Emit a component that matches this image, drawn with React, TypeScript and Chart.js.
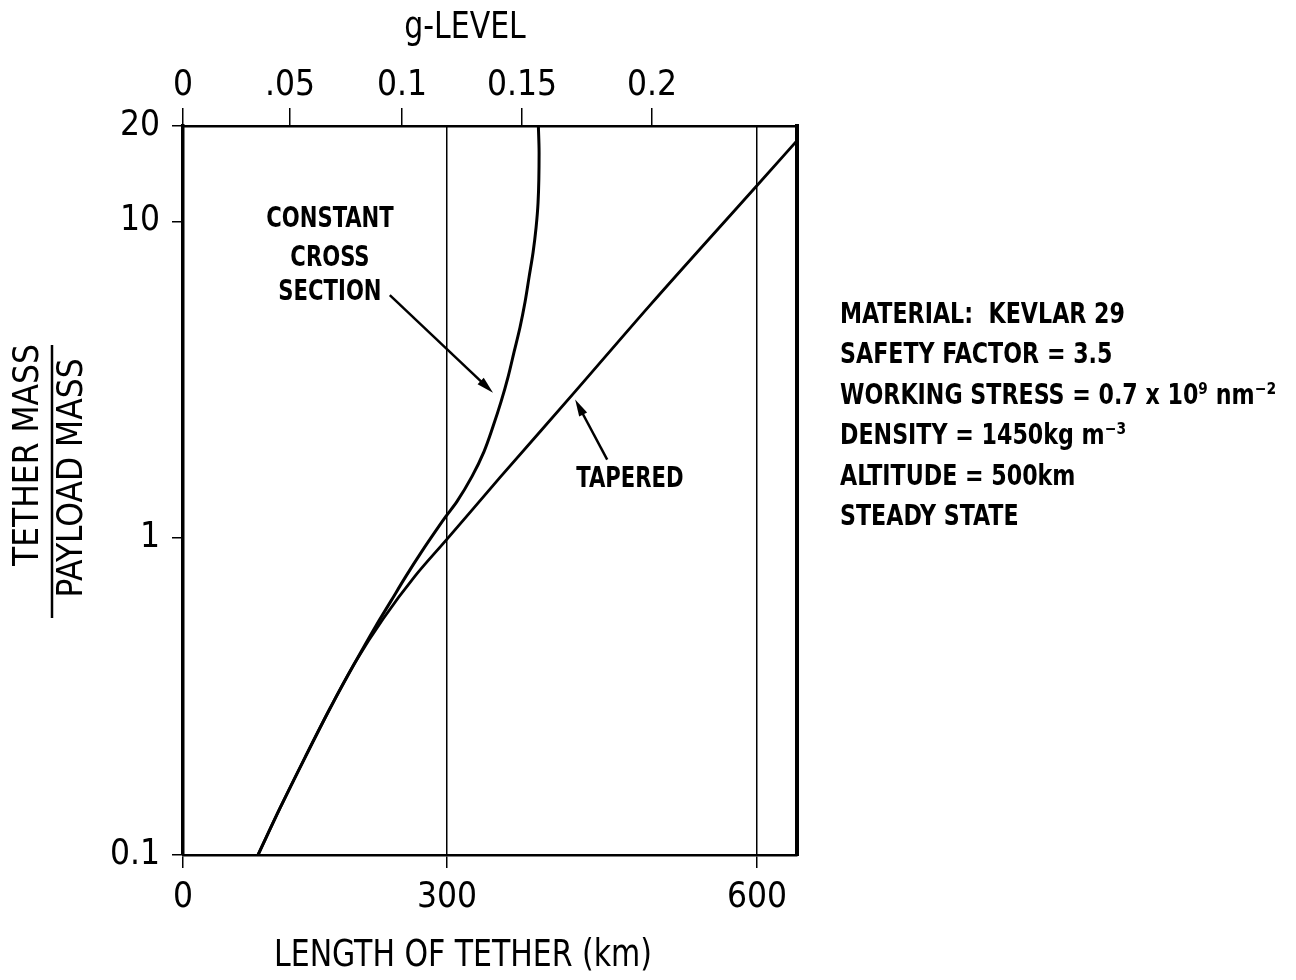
import React, { useEffect, useRef } from 'react';
import { Chart, LinearScale, registerables } from 'chart.js';

const FONT_FAMILY = "'Liberation Sans Narrow', 'DejaVu Sans Condensed', 'Arial Narrow', sans-serif";

// ---------- axis ticks ----------
const X_TICKS = [0, 300, 600];
const X_TICK_LABELS = ['0', '300', '600'];
const G_TICKS = [0, 0.05, 0.1, 0.15, 0.2];
const G_TICK_LABELS = ['0', '.05', '0.1', '0.15', '0.2'];
const Y_TICKS = [0.1, 1, 10, 20];
const Y_TICK_LABELS = ['0.1', '1', '10', '20'];

// ---------- series (length of tether km, tether mass / payload mass) ----------
const TAPERED_KM = [85.2, 110.2, 138.6, 167, 195.5, 227.3, 263.6, 300, 351.3, 423.9, 496.5, 600, 640];
const TAPERED_RATIO = [0.1, 0.1405, 0.203, 0.29, 0.405, 0.556, 0.759, 0.993, 1.555, 2.9, 5.44, 12.98, 17.98];

const CONSTANT_KM = [
  85.2, 110.2, 138.6, 167, 195.5, 219.3, 236.4, 253.4, 271.6, 290.9, 298.9, 309.7, 324.2, 335.8, 344.5,
  352.3, 359.1, 364.9, 370.7, 375.5, 379.4, 383.3, 386.2, 388.1, 389.1, 388.4,
];
const CONSTANT_RATIO = [
  0.1, 0.1405, 0.203, 0.29, 0.405, 0.529, 0.634, 0.759, 0.91, 1.091, 1.173, 1.307, 1.567, 1.877, 2.25,
  2.697, 3.231, 3.873, 4.642, 5.564, 6.668, 7.99, 9.57, 11.47, 16.48, 20,
];

// ---------- texts ----------
const X_TITLE = 'LENGTH OF TETHER (km)';
const G_TITLE = 'g-LEVEL';
const Y_TITLE_TOP = 'TETHER MASS';
const Y_TITLE_BOTTOM = 'PAYLOAD MASS';
const CONSTANT_LABEL = ['CONSTANT', 'CROSS', 'SECTION'];
const TAPERED_LABEL = 'TAPERED';
const NOTES = [
  'MATERIAL:  KEVLAR 29',
  'SAFETY FACTOR = 3.5',
  'WORKING STRESS = 0.7 x 10\u2079 nm\u207B\u00B2',
  'DENSITY = 1450kg m\u207B\u00B3',
  'ALTITUDE = 500km',
  'STEADY STATE',
];

// annotation anchors in data units (km, ratio)
const CONSTANT_LABEL_KM = 167;
const CONSTANT_LABEL_RATIO = [10.1, 7.6, 5.95];
const CONSTANT_ARROW = [[235, 5.85], [344.5, 2.88]];
const TAPERED_LABEL_AT = [477, 1.53];
const TAPERED_ARROW = [[455, 1.77], [424, 2.74]];

// piecewise axis breakpoints [value, fraction of axis length]
const AXIS_KNOTS: Record<string, number[][]> = {
  x: [[0, 0], [300, 0.43], [600, 0.9349], [640, 1]],
  g: [[0, 0], [0.05, 0.1743], [0.1, 0.3567], [0.15, 0.5521], [0.2, 0.7638], [0.2558, 1]],
};

function interp(knots: number[][], v: number, from: number, to: number): number {
  const n = knots.length;
  for (let i = 0; i < n - 1; i++) {
    const a = knots[i];
    const b = knots[i + 1];
    if (v <= b[from] || i === n - 2) {
      return a[to] + ((v - a[from]) * (b[to] - a[to])) / (b[from] - a[from]);
    }
  }
  return 0;
}

class KnotScale extends LinearScale {
  static id = 'knot';
  static defaults = {};
  getPixelForValue(value: any) {
    if (value === null || value === undefined || isNaN(value)) return NaN;
    const knots = AXIS_KNOTS[(this as any).id];
    return (this as any).getPixelForDecimal(interp(knots, value, 0, 1));
  }
  getValueForPixel(pixel: number) {
    const knots = AXIS_KNOTS[(this as any).id];
    return interp(knots, (this as any).getDecimalForPixel(pixel), 1, 0);
  }
}

Chart.register(...registerables, KnotScale as any);

function font(size: number, bold = false) {
  return `${bold ? 'bold ' : ''}${size}px ${FONT_FAMILY}`;
}

// draw text horizontally condensed (the original uses a condensed typeface)
function condensedText(ctx: CanvasRenderingContext2D, text: string, x: number, y: number, sx: number, rotate = 0) {
  ctx.save();
  ctx.translate(x, y);
  if (rotate) ctx.rotate(rotate);
  ctx.scale(sx, 1);
  ctx.fillText(text, 0, 0);
  ctx.restore();
}

function drawArrow(ctx: CanvasRenderingContext2D, x1: number, y1: number, x2: number, y2: number) {
  const ang = Math.atan2(y2 - y1, x2 - x1);
  const L = 17;
  const W = 4.5;
  const c = Math.cos(ang);
  const s = Math.sin(ang);
  ctx.beginPath();
  ctx.moveTo(x1, y1);
  ctx.lineTo(x2 - L * 0.5 * c, y2 - L * 0.5 * s);
  ctx.stroke();
  ctx.beginPath();
  ctx.moveTo(x2, y2);
  ctx.lineTo(x2 - L * c + W * s, y2 - L * s - W * c);
  ctx.lineTo(x2 - L * c - W * s, y2 - L * s + W * c);
  ctx.closePath();
  ctx.fill();
}

const decorPlugin = {
  id: 'decor',
  afterDraw(chart: any) {
    const ctx: CanvasRenderingContext2D = chart.ctx;
    const xs = chart.scales.x;
    const ys = chart.scales.y;
    const px = (v: number) => xs.getPixelForValue(v);
    const py = (v: number) => ys.getPixelForValue(v);
    ctx.save();
    ctx.fillStyle = '#000';
    ctx.strokeStyle = '#000';
    ctx.textAlign = 'center';
    ctx.textBaseline = 'middle';

    // axis titles
    ctx.font = font(37);
    condensedText(ctx, X_TITLE, 463, 956, 0.9);
    condensedText(ctx, G_TITLE, 465, 28, 0.9);

    // y title as a fraction
    ctx.font = font(36);
    condensedText(ctx, Y_TITLE_TOP, 29, 455, 0.97, -Math.PI / 2);
    condensedText(ctx, Y_TITLE_BOTTOM, 73, 478, 0.97, -Math.PI / 2);
    ctx.lineWidth = 2.5;
    ctx.beginPath();
    ctx.moveTo(52, 345);
    ctx.lineTo(52, 618);
    ctx.stroke();

    // curve labels
    ctx.font = font(28, true);
    CONSTANT_LABEL.forEach((t, i) => {
      condensedText(ctx, t, px(CONSTANT_LABEL_KM), py(CONSTANT_LABEL_RATIO[i]), 0.84);
    });
    condensedText(ctx, TAPERED_LABEL, px(TAPERED_LABEL_AT[0]), py(TAPERED_LABEL_AT[1]), 0.84);

    // arrows
    ctx.lineWidth = 2.5;
    drawArrow(ctx, px(CONSTANT_ARROW[0][0]), py(CONSTANT_ARROW[0][1]), px(CONSTANT_ARROW[1][0]), py(CONSTANT_ARROW[1][1]));
    drawArrow(ctx, px(TAPERED_ARROW[0][0]), py(TAPERED_ARROW[0][1]), px(TAPERED_ARROW[1][0]), py(TAPERED_ARROW[1][1]));

    // notes block
    ctx.textAlign = 'left';
    ctx.font = font(29, true);
    NOTES.forEach((t, i) => {
      condensedText(ctx, t, 840, 315 + i * 40.5, 0.85);
    });
    ctx.restore();
  },
};

export default function App() {
  const ref = useRef<HTMLCanvasElement | null>(null);
  useEffect(() => {
    if (!ref.current) return;
    const black = '#000';
    const tickFont = { family: FONT_FAMILY, size: 35 };
    const chart = new Chart(ref.current, {
      type: 'scatter',
      data: {
        datasets: [
          {
            label: 'Constant cross section',
            data: CONSTANT_KM.map((x, i) => ({ x, y: CONSTANT_RATIO[i] })),
            showLine: true,
            indexAxis: 'y',
            cubicInterpolationMode: 'monotone',
            borderColor: black,
            borderWidth: 3,
            pointRadius: 0,
            xAxisID: 'x',
            yAxisID: 'y',
          },
          {
            label: 'Tapered',
            data: TAPERED_KM.map((x, i) => ({ x, y: TAPERED_RATIO[i] })),
            showLine: true,
            indexAxis: 'y',
            cubicInterpolationMode: 'monotone',
            borderColor: black,
            borderWidth: 2.8,
            pointRadius: 0,
            xAxisID: 'x',
            yAxisID: 'y',
          },
        ],
      },
      options: {
        responsive: false,
        animation: false,
        events: [],
        layout: { padding: { left: 0, top: 0, right: 495, bottom: 0 } },
        plugins: { legend: { display: false }, tooltip: { enabled: false }, title: { display: false } },
        scales: {
          x: {
            type: 'knot' as any,
            position: 'bottom',
            min: 0,
            max: 640,
            afterBuildTicks: (s: any) => {
              s.ticks = X_TICKS.map((v) => ({ value: v }));
            },
            afterFit: (s: any) => {
              s.height = 125;
            },
            grid: { color: black, lineWidth: 1.5, drawOnChartArea: true, drawTicks: true, tickLength: 13, tickColor: black },
            border: { display: true, color: black, width: 2.5 },
            ticks: {
              color: black,
              font: tickFont,
              padding: 9,
              maxRotation: 0,
              autoSkip: false,
              callback: (_v: any, i: number) => X_TICK_LABELS[i],
            },
          },
          g: {
            type: 'knot' as any,
            position: 'top',
            min: 0,
            max: 0.2558,
            afterBuildTicks: (s: any) => {
              s.ticks = G_TICKS.map((v) => ({ value: v }));
            },
            afterFit: (s: any) => {
              s.height = 126;
            },
            grid: { color: black, lineWidth: 1.5, drawOnChartArea: false, drawTicks: true, tickLength: 18, tickColor: black },
            border: { display: true, color: black, width: 2.5 },
            ticks: {
              color: black,
              font: tickFont,
              padding: 1,
              maxRotation: 0,
              autoSkip: false,
              callback: (_v: any, i: number) => G_TICK_LABELS[i],
            },
          },
          y: {
            type: 'logarithmic',
            position: 'left',
            min: 0.1,
            max: 20,
            afterBuildTicks: (s: any) => {
              s.ticks = Y_TICKS.map((v) => ({ value: v }));
            },
            afterFit: (s: any) => {
              s.width = 183;
            },
            grid: { color: black, lineWidth: 1.5, drawOnChartArea: false, drawTicks: true, tickLength: 11, tickColor: black },
            border: { display: true, color: black, width: 3.5 },
            ticks: {
              color: black,
              font: tickFont,
              padding: 12,
              autoSkip: false,
              callback: (_v: any, i: number) => Y_TICK_LABELS[i],
            },
          },
          yr: {
            type: 'linear',
            position: 'right',
            min: 0,
            max: 1,
            afterFit: (s: any) => {
              s.width = 4;
            },
            grid: { display: false },
            ticks: { display: false },
            border: { display: true, color: black, width: 4 },
          },
        } as any,
      },
      plugins: [decorPlugin],
    } as any);
    return () => chart.destroy();
  }, []);

  return (
    <div style={{ position: 'fixed', left: 0, top: 0, width: 1296, height: 980, background: '#fff' }}>
      <canvas ref={ref} width={1296} height={980} style={{ display: 'block' }} />
    </div>
  );
}
